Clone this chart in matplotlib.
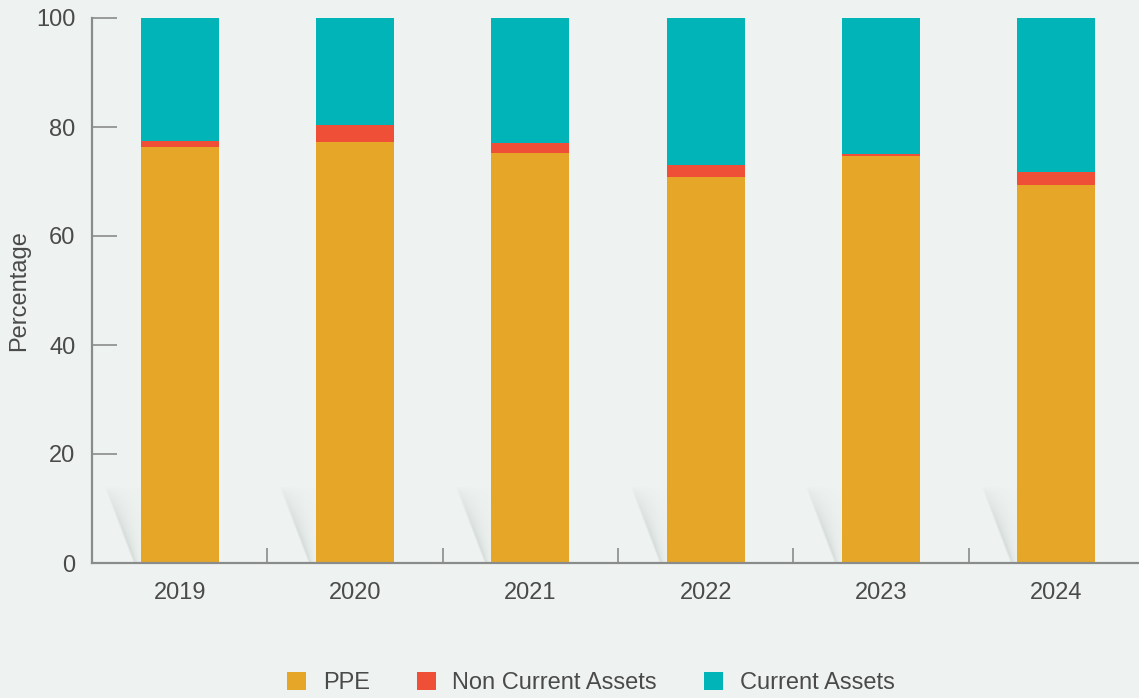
import numpy as np
import matplotlib.pyplot as plt

years = ["2019", "2020", "2021", "2022", "2023", "2024"]
ppe = [76.4, 77.2, 75.3, 70.9, 74.7, 69.4]
non_current = [1.0, 3.1, 1.8, 2.1, 0.4, 2.4]
current = [100 - p - n for p, n in zip(ppe, non_current)]

c_ppe = "#e6a728"
c_nca = "#ef4e37"
c_ca = "#00b4b7"
bg = "#eef3f1"
txt = "#4a4a4a"
spine = "#8a8c8c"

plt.rcParams["font.family"] = ["Liberation Sans", "DejaVu Sans"]

fig = plt.figure(figsize=(11.39, 6.98), dpi=100, facecolor=bg)
ax = fig.add_axes([92 / 1139, 1 - 563 / 698, 1052 / 1139, 545 / 698])
ax.set_facecolor(bg)

x = np.arange(len(years))
w = 0.445

# soft shadow to the lower left of each bar: a "\" band fading up and toward the bar
sw, sh = 0.21, 14.0
ny, nx = 80, 60
u = np.linspace(0, 1, nx)[None, :]
v = np.linspace(1, 0, ny)[:, None]          # image row 0 is the top
edge = 0.8 * (1 - v)                         # diagonal left edge of the shadow
d = np.clip((u - edge) / np.maximum(1 - edge, 1e-3), 0, 1)
alpha = 0.45 * (1 - v) ** 0.6 * np.exp(-d / 0.4) * np.clip((u - edge) / 0.05, 0, 1)
shade = np.zeros((ny, nx, 4))
shade[..., :3] = np.array([150, 158, 156]) / 255
shade[..., 3] = alpha
for xi in x:
    bl = xi - w / 2
    ax.imshow(shade, extent=[bl - sw, bl, 0, sh], aspect="auto", zorder=1,
              interpolation="bilinear")

ax.bar(x, ppe, w, color=c_ppe, label="PPE", zorder=2)
ax.bar(x, non_current, w, bottom=ppe, color=c_nca, label="Non Current Assets", zorder=2)
ax.bar(x, current, w, bottom=np.add(ppe, non_current), color=c_ca,
       label="Current Assets", zorder=2)

ax.set_xlim(-0.5, 5.5)
ax.set_ylim(0, 100)

ax.set_xticks(x)
ax.set_xticklabels(years)
ax.set_xticks(x[:-1] + 0.5, minor=True)
ax.tick_params(axis="x", which="major", length=0, pad=14, labelsize=17, labelcolor=txt)
ax.tick_params(axis="x", which="minor", direction="in", length=11, width=1.2, color=spine)

ax.set_yticks([0, 20, 40, 60, 80, 100])
ax.tick_params(axis="y", direction="in", length=18, width=1.2, color=spine,
               pad=12, labelsize=17, labelcolor=txt)
ax.set_ylabel("Percentage", fontsize=17, color=txt, labelpad=4)

for s in ["top", "right"]:
    ax.spines[s].set_visible(False)
for s in ["left", "bottom"]:
    ax.spines[s].set_color(spine)
    ax.spines[s].set_linewidth(1.6)

fig.legend(loc="center", bbox_to_anchor=(591 / 1139, 1 - 683 / 698), ncol=3,
           frameon=False, fontsize=17, labelcolor=txt, handlelength=0.8,
           handleheight=0.8, handletextpad=0.7, columnspacing=2.0)

fig.savefig("out.png", dpi=100, facecolor=bg)
